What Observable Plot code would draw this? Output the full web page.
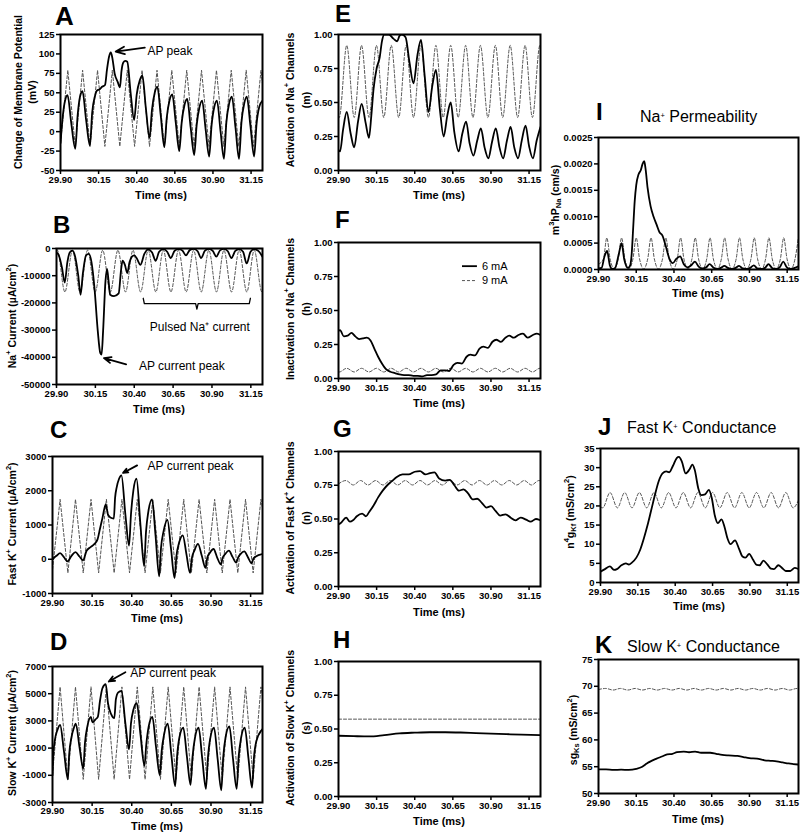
<!DOCTYPE html>
<html><head><meta charset="utf-8">
<script src="https://cdn.jsdelivr.net/npm/d3@7"></script>
<script src="https://cdn.jsdelivr.net/npm/@observablehq/plot@0.6"></script>
<style>
body{margin:0;background:#fff;}
#fig{position:relative;width:800px;height:834px;overflow:hidden;background:#fff;font-family:"Liberation Sans",Arial,sans-serif;}
</style></head>
<body><div id="fig"></div>
<script>
// ---------- DATA (time in ms) ----------
const X_TICKS = [29.90, 30.15, 30.40, 30.65, 30.90, 31.15];
const A_Y_TICKS = [-50, -25, 0, 25, 50, 75, 100, 125];
const B_Y_TICKS = [-50000, -40000, -30000, -20000, -10000, 0];
const C_Y_TICKS = [-1000, 0, 1000, 2000, 3000];
const D_Y_TICKS = [-3000, -1000, 1000, 3000, 5000, 7000];
const GATE_Y_TICKS = [0, 0.25, 0.5, 0.75, 1];
const I_Y_TICKS = [0, 0.0005, 0.001, 0.0015, 0.002, 0.0025];
const J_Y_TICKS = [0, 5, 10, 15, 20, 25, 30, 35];
const K_Y_TICKS = [50, 55, 60, 65, 70, 75];

const A_6mA = [[29.900,-15],[29.915,20],[29.930,40],[29.946,47],[29.970,12],[29.997,-22],[30.012,20],[30.028,45],[30.044,52],[30.068,15],[30.093,-18],[30.108,25],[30.125,45],[30.140,53],[30.152,54],[30.175,58],[30.192,60],[30.205,80],[30.218,96],[30.230,102],[30.240,95],[30.255,75],[30.275,64],[30.290,57],[30.300,78],[30.312,89],[30.325,91],[30.338,90],[30.360,50],[30.383,15],[30.400,48],[30.420,66],[30.437,72],[30.460,30],[30.484,-8],[30.500,28],[30.518,50],[30.535,58],[30.558,20],[30.581,-20],[30.597,18],[30.615,40],[30.633,48],[30.656,12],[30.679,-25],[30.695,12],[30.713,34],[30.731,42],[30.754,5],[30.777,-30],[30.793,8],[30.811,31],[30.829,40],[30.852,3],[30.875,-32],[30.891,8],[30.909,32],[30.926,40],[30.950,0],[30.972,-35],[30.988,12],[31.006,36],[31.024,45],[31.048,5],[31.071,-35],[31.087,12],[31.105,36],[31.122,45],[31.146,7],[31.170,-32],[31.186,10],[31.204,32],[31.225,40]];
const A_9mA = [[29.900,-15],[29.948,79],[29.997,-19],[30.045,79],[30.094,-19],[30.143,79],[30.191,-19],[30.240,79],[30.289,-19],[30.338,79],[30.386,-19],[30.435,79],[30.484,-19],[30.533,79],[30.581,-19],[30.630,79],[30.679,-19],[30.728,79],[30.776,-19],[30.825,79],[30.874,-19],[30.923,79],[30.971,-19],[31.020,79],[31.069,-19],[31.118,79],[31.166,-19],[31.215,79],[31.225,62]];

const B_6mA = [[29.900,-1500],[29.915,-2500],[29.935,-7000],[29.953,-12500],[29.970,-5000],[29.985,-1500],[30.002,-800],[30.020,-3000],[30.040,-10000],[30.055,-17000],[30.070,-9000],[30.090,-2500],[30.108,-2000],[30.125,-5000],[30.145,-15000],[30.165,-30000],[30.182,-38500],[30.190,-39000],[30.200,-30000],[30.215,-12000],[30.225,-7500],[30.235,-12000],[30.245,-17000],[30.270,-17500],[30.300,-16500],[30.315,-8000],[30.325,-4500],[30.340,-6000],[30.355,-9000],[30.370,-5000],[30.385,-3000],[30.400,-2500],[30.415,-3500],[30.440,-6000],[30.465,-2000],[30.490,-300],[30.515,-1500],[30.538,-4500],[30.560,-1200],[30.588,-200],[30.612,-1200],[30.635,-3500],[30.660,-800],[30.686,-200],[30.710,-800],[30.733,-2500],[30.757,-600],[30.783,-150],[30.808,-1000],[30.830,-3500],[30.855,-800],[30.880,-150],[30.905,-900],[30.928,-3000],[30.952,-700],[30.977,-150],[31.002,-1000],[31.025,-3500],[31.050,-900],[31.075,-200],[31.100,-1200],[31.123,-5500],[31.148,-1200],[31.172,-200],[31.198,-900],[31.225,-3000]];
const B_9mA = [[29.900,-700],[29.905,-600],[29.954,-16000],[30.003,-600],[30.051,-16000],[30.100,-600],[30.149,-16000],[30.197,-600],[30.246,-16000],[30.295,-600],[30.344,-16000],[30.392,-600],[30.441,-16000],[30.490,-600],[30.539,-16000],[30.587,-600],[30.636,-16000],[30.685,-600],[30.734,-16000],[30.782,-600],[30.831,-16000],[30.880,-600],[30.929,-16000],[30.977,-600],[31.026,-16000],[31.075,-600],[31.124,-16000],[31.172,-600],[31.221,-16000],[31.225,-15500]];

const C_6mA = [[29.900,0],[29.925,100],[29.948,180],[29.972,60],[29.995,-60],[30.020,100],[30.045,210],[30.070,80],[30.093,-30],[30.115,250],[30.142,360],[30.165,450],[30.184,580],[30.200,900],[30.215,1200],[30.236,1600],[30.250,1300],[30.265,1220],[30.287,1190],[30.295,1800],[30.305,2100],[30.320,2350],[30.335,2450],[30.360,1300],[30.383,400],[30.395,1300],[30.410,2000],[30.430,2350],[30.455,1000],[30.478,-200],[30.490,800],[30.505,1400],[30.528,1750],[30.550,700],[30.573,-500],[30.585,350],[30.600,800],[30.625,1150],[30.648,300],[30.670,-550],[30.682,100],[30.697,450],[30.722,700],[30.745,150],[30.768,-400],[30.780,50],[30.795,250],[30.818,450],[30.842,100],[30.865,-250],[30.877,50],[30.892,180],[30.916,300],[30.939,50],[30.962,-150],[30.974,50],[30.989,150],[31.013,250],[31.036,70],[31.059,-100],[31.071,50],[31.086,150],[31.110,230],[31.133,60],[31.156,-120],[31.168,20],[31.183,80],[31.225,150]];
const C_9mA = [[29.900,-300],[29.948,1750],[29.997,-400],[30.045,1750],[30.094,-400],[30.143,1750],[30.191,-400],[30.240,1750],[30.289,-400],[30.338,1750],[30.386,-400],[30.435,1750],[30.484,-400],[30.533,1750],[30.581,-400],[30.630,1750],[30.679,-400],[30.728,1750],[30.776,-400],[30.825,1750],[30.874,-400],[30.923,1750],[30.971,-400],[31.020,1750],[31.069,-400],[31.118,1750],[31.166,-400],[31.215,1750],[31.225,1500]];

const D_6mA = [[29.900,-1000],[29.905,500],[29.915,1600],[29.930,2300],[29.948,2700],[29.972,800],[29.997,-1300],[30.005,500],[30.020,1800],[30.035,2500],[30.047,2800],[30.070,1100],[30.094,-500],[30.105,1400],[30.120,2600],[30.142,3300],[30.152,2900],[30.170,3100],[30.186,3300],[30.200,4500],[30.215,5400],[30.236,5700],[30.250,4300],[30.270,3500],[30.290,3200],[30.300,4600],[30.315,5100],[30.335,5200],[30.360,2800],[30.383,900],[30.395,2800],[30.410,3800],[30.432,4300],[30.455,2000],[30.480,-300],[30.492,1300],[30.507,2600],[30.530,3300],[30.553,1100],[30.577,-1000],[30.589,800],[30.604,2000],[30.627,2800],[30.650,500],[30.674,-1800],[30.686,400],[30.701,1800],[30.725,2500],[30.748,400],[30.771,-1700],[30.783,300],[30.798,1700],[30.822,2500],[30.845,200],[30.868,-2000],[30.880,200],[30.895,1700],[30.919,2500],[30.942,200],[30.965,-2100],[30.977,300],[30.992,1800],[31.016,2600],[31.039,200],[31.062,-2000],[31.074,300],[31.089,1700],[31.113,2500],[31.136,300],[31.159,-1900],[31.171,300],[31.186,1500],[31.225,2400]];
const D_9mA = [[29.900,-1000],[29.948,5500],[29.997,-1300],[30.045,5500],[30.094,-1300],[30.143,5500],[30.191,-1300],[30.240,5500],[30.289,-1300],[30.338,5500],[30.386,-1300],[30.435,5500],[30.484,-1300],[30.533,5500],[30.581,-1300],[30.630,5500],[30.679,-1300],[30.728,5500],[30.776,-1300],[30.825,5500],[30.874,-1300],[30.923,5500],[30.971,-1300],[31.020,5500],[31.069,-1300],[31.118,5500],[31.166,-1300],[31.215,5500],[31.225,4800]];

const E_6mA = [[29.900,0.15],[29.910,0.14],[29.930,0.30],[29.954,0.43],[29.980,0.27],[30.003,0.17],[30.028,0.36],[30.052,0.49],[30.078,0.35],[30.100,0.24],[30.115,0.40],[30.130,0.60],[30.150,0.75],[30.170,0.83],[30.185,0.95],[30.200,1.00],[30.230,1.00],[30.260,0.97],[30.285,0.95],[30.300,0.99],[30.315,1.00],[30.340,0.98],[30.365,0.80],[30.392,0.64],[30.418,0.85],[30.441,0.96],[30.465,0.70],[30.490,0.43],[30.515,0.62],[30.539,0.74],[30.565,0.45],[30.590,0.25],[30.613,0.40],[30.636,0.50],[30.660,0.28],[30.688,0.14],[30.712,0.27],[30.737,0.36],[30.760,0.20],[30.785,0.11],[30.810,0.22],[30.834,0.31],[30.858,0.17],[30.883,0.09],[30.907,0.21],[30.932,0.31],[30.956,0.17],[30.980,0.09],[31.005,0.22],[31.029,0.32],[31.053,0.17],[31.078,0.09],[31.102,0.22],[31.127,0.33],[31.150,0.18],[31.175,0.09],[31.200,0.22],[31.225,0.32]];
const E_9mA = [[29.900,0.40],[29.905,0.39],[29.954,0.92],[30.003,0.39],[30.051,0.92],[30.100,0.39],[30.149,0.92],[30.197,0.39],[30.246,0.92],[30.295,0.39],[30.344,0.92],[30.392,0.39],[30.441,0.92],[30.490,0.39],[30.539,0.92],[30.587,0.39],[30.636,0.92],[30.685,0.39],[30.734,0.92],[30.782,0.39],[30.831,0.92],[30.880,0.39],[30.929,0.92],[30.977,0.39],[31.026,0.92],[31.075,0.39],[31.124,0.92],[31.172,0.39],[31.221,0.92],[31.225,0.91]];

const F_6mA = [[29.900,0.35],[29.910,0.355],[29.935,0.31],[29.960,0.315],[29.985,0.335],[30.010,0.31],[30.035,0.29],[30.060,0.295],[30.085,0.30],[30.110,0.28],[30.135,0.22],[30.160,0.16],[30.185,0.11],[30.210,0.07],[30.240,0.05],[30.270,0.04],[30.300,0.03],[30.330,0.025],[30.360,0.025],[30.390,0.02],[30.420,0.02],[30.450,0.015],[30.480,0.025],[30.510,0.025],[30.540,0.03],[30.570,0.06],[30.600,0.06],[30.625,0.055],[30.655,0.10],[30.680,0.115],[30.710,0.11],[30.740,0.16],[30.765,0.175],[30.795,0.17],[30.825,0.22],[30.850,0.235],[30.880,0.225],[30.910,0.27],[30.935,0.285],[30.965,0.27],[30.995,0.30],[31.020,0.315],[31.050,0.30],[31.080,0.32],[31.110,0.33],[31.140,0.30],[31.175,0.32],[31.200,0.33],[31.225,0.32]];
const F_9mA = [[29.900,0.05],[29.905,0.048],[29.954,0.075],[30.003,0.048],[30.051,0.075],[30.100,0.048],[30.149,0.075],[30.197,0.048],[30.246,0.075],[30.295,0.048],[30.344,0.075],[30.392,0.048],[30.441,0.075],[30.490,0.048],[30.539,0.075],[30.587,0.048],[30.636,0.075],[30.685,0.048],[30.734,0.075],[30.782,0.048],[30.831,0.075],[30.880,0.048],[30.929,0.075],[30.977,0.048],[31.026,0.075],[31.075,0.048],[31.124,0.075],[31.172,0.048],[31.221,0.075],[31.225,0.074]];

const G_6mA = [[29.900,0.46],[29.915,0.47],[29.950,0.51],[29.975,0.48],[29.995,0.49],[30.020,0.52],[30.055,0.54],[30.080,0.52],[30.100,0.55],[30.130,0.60],[30.160,0.66],[30.190,0.71],[30.220,0.75],[30.250,0.78],[30.280,0.81],[30.320,0.83],[30.360,0.83],[30.400,0.85],[30.435,0.855],[30.470,0.83],[30.500,0.84],[30.530,0.845],[30.560,0.80],[30.600,0.785],[30.630,0.79],[30.660,0.75],[30.690,0.71],[30.720,0.72],[30.750,0.69],[30.780,0.645],[30.810,0.65],[30.840,0.62],[30.870,0.585],[30.900,0.595],[30.930,0.56],[30.960,0.525],[30.995,0.535],[31.030,0.51],[31.060,0.49],[31.095,0.51],[31.130,0.495],[31.160,0.48],[31.195,0.50],[31.225,0.49]];
const G_9mA = [[29.900,0.76],[29.948,0.785],[29.997,0.752],[30.045,0.785],[30.094,0.752],[30.143,0.785],[30.191,0.752],[30.240,0.785],[30.289,0.752],[30.338,0.785],[30.386,0.752],[30.435,0.785],[30.484,0.752],[30.533,0.785],[30.581,0.752],[30.630,0.785],[30.679,0.752],[30.728,0.785],[30.776,0.752],[30.825,0.785],[30.874,0.752],[30.923,0.785],[30.971,0.752],[31.020,0.785],[31.069,0.752],[31.118,0.785],[31.166,0.752],[31.215,0.785],[31.225,0.782]];

const H_6mA = [[29.900,0.450],[30.000,0.447],[30.100,0.445],[30.200,0.455],[30.300,0.468],[30.400,0.473],[30.500,0.476],[30.600,0.476],[30.700,0.474],[30.800,0.470],[30.900,0.466],[31.000,0.462],[31.100,0.458],[31.225,0.455]];
const H_9mA = [[29.900,0.573],[30.300,0.573],[30.700,0.573],[31.225,0.573]];

const I_6mA = [[29.900,0.00002],[29.920,0.00003],[29.940,0.00025],[29.957,0.00035],[29.975,0.00008],[29.990,0.00001],[30.010,0.00003],[30.035,0.00030],[30.053,0.00050],[30.070,0.00020],[30.095,0.00003],[30.110,0.00008],[30.120,0.00030],[30.130,0.00080],[30.140,0.00130],[30.150,0.00160],[30.165,0.00180],[30.180,0.00188],[30.192,0.00200],[30.203,0.00205],[30.212,0.00190],[30.225,0.00155],[30.245,0.00120],[30.265,0.00100],[30.285,0.00085],[30.305,0.00070],[30.322,0.00065],[30.345,0.00045],[30.370,0.00020],[30.392,0.00012],[30.415,0.00020],[30.441,0.00025],[30.465,0.00010],[30.490,0.00004],[30.515,0.00008],[30.539,0.00015],[30.562,0.00006],[30.587,0.00002],[30.613,0.00004],[30.636,0.00010],[30.660,0.00004],[30.685,0.00001],[30.710,0.00003],[30.734,0.00007],[30.757,0.00003],[30.782,0.00001],[30.808,0.00003],[30.831,0.00007],[30.855,0.00002],[30.880,0.00001],[30.905,0.00003],[30.929,0.00008],[30.952,0.00002],[30.977,0.00001],[31.003,0.00003],[31.026,0.00010],[31.050,0.00003],[31.075,0.00001],[31.100,0.00004],[31.124,0.00015],[31.148,0.00004],[31.172,0.00001],[31.200,0.00003],[31.225,0.00006]];
const I_9mA = [[29.900,0.00010],[29.933,0.00020],[29.955,0.00060],[29.977,0.00020],[30.004,0.00001],[30.031,0.00020],[30.053,0.00060],[30.075,0.00020],[30.102,0.00001],[30.128,0.00020],[30.150,0.00060],[30.172,0.00020],[30.199,0.00001],[30.226,0.00020],[30.248,0.00060],[30.270,0.00020],[30.297,0.00001],[30.324,0.00020],[30.346,0.00060],[30.368,0.00020],[30.395,0.00001],[30.422,0.00020],[30.444,0.00060],[30.466,0.00020],[30.493,0.00001],[30.519,0.00020],[30.541,0.00060],[30.563,0.00020],[30.590,0.00001],[30.617,0.00020],[30.639,0.00060],[30.661,0.00020],[30.688,0.00001],[30.714,0.00020],[30.736,0.00060],[30.758,0.00020],[30.785,0.00001],[30.812,0.00020],[30.834,0.00060],[30.856,0.00020],[30.883,0.00001],[30.910,0.00020],[30.932,0.00060],[30.954,0.00020],[30.981,0.00001],[31.007,0.00020],[31.029,0.00060],[31.051,0.00020],[31.078,0.00001],[31.105,0.00020],[31.127,0.00060],[31.149,0.00020],[31.176,0.00001],[31.202,0.00020],[31.224,0.00060]];

const J_6mA = [[29.900,2.8],[29.930,3.5],[29.963,4.2],[29.990,3.3],[30.010,3.5],[30.040,4.5],[30.070,5.0],[30.090,4.7],[30.110,5.2],[30.140,6.5],[30.165,8.5],[30.190,11.5],[30.215,15],[30.240,19],[30.265,23],[30.290,26.5],[30.315,28.5],[30.340,29.0],[30.360,28.8],[30.385,30.5],[30.410,32.5],[30.425,32.8],[30.445,31.5],[30.470,28.5],[30.495,29.5],[30.515,30.8],[30.530,29.5],[30.555,24.5],[30.575,22.8],[30.600,23.0],[30.625,24.2],[30.645,22.0],[30.665,17.5],[30.685,15.5],[30.710,16.5],[30.730,14.5],[30.750,11.5],[30.770,10.0],[30.800,11.0],[30.825,9.0],[30.850,6.8],[30.870,6.5],[30.895,7.5],[30.920,6.0],[30.945,4.6],[30.965,4.5],[30.990,5.7],[31.015,4.8],[31.040,3.6],[31.060,3.5],[31.090,4.5],[31.115,3.8],[31.140,3.0],[31.170,3.0],[31.200,3.8],[31.225,3.5]];
const J_9mA = [[29.900,19.8],[29.915,19.5],[29.964,23.5],[30.013,19.5],[30.062,23.5],[30.111,19.5],[30.160,23.5],[30.209,19.5],[30.258,23.5],[30.307,19.5],[30.356,23.5],[30.405,19.5],[30.454,23.5],[30.503,19.5],[30.552,23.5],[30.601,19.5],[30.650,23.5],[30.699,19.5],[30.748,23.5],[30.797,19.5],[30.846,23.5],[30.895,19.5],[30.944,23.5],[30.993,19.5],[31.042,23.5],[31.091,19.5],[31.140,23.5],[31.189,19.5],[31.225,21.5]];

const K_6mA = [[29.900,54.5],[29.950,54.5],[30.000,54.4],[30.050,54.45],[30.100,54.4],[30.150,54.6],[30.190,55.0],[30.220,55.6],[30.245,56.0],[30.285,56.5],[30.320,56.9],[30.355,57.3],[30.390,57.4],[30.420,57.7],[30.465,57.8],[30.500,57.7],[30.540,57.8],[30.580,57.6],[30.640,57.6],[30.680,57.4],[30.720,57.2],[30.760,57.1],[30.820,57.0],[30.860,56.8],[30.900,56.6],[30.950,56.5],[31.000,56.2],[31.040,56.1],[31.080,56.0],[31.120,55.8],[31.160,55.6],[31.190,55.5],[31.225,55.4]];
const K_9mA = [[29.900,69.4],[29.948,69.6],[29.997,69.3],[30.045,69.6],[30.094,69.3],[30.143,69.6],[30.191,69.3],[30.240,69.6],[30.289,69.3],[30.338,69.6],[30.386,69.3],[30.435,69.6],[30.484,69.3],[30.533,69.6],[30.581,69.3],[30.630,69.6],[30.679,69.3],[30.728,69.6],[30.776,69.3],[30.825,69.6],[30.874,69.3],[30.923,69.6],[30.971,69.3],[31.020,69.6],[31.069,69.3],[31.118,69.6],[31.166,69.3],[31.215,69.6],[31.225,69.5]];

// annotations (data coordinates)
const A_NOTE = [{t:30.47, v:104, label:"AP peak", t0:30.453, v0:108, t1:30.262, v1:103}];
const B_NOTE = [{t:30.43, v:-43400, label:"AP current peak", t0:30.348, v0:-42600, t1:30.205, v1:-40300}];
const B_PULSE_LABEL = [{t:30.822, v:-28900, label:"Pulsed Na\u207A current"}];
const B_BRACKET = [[30.458,-18300],[30.465,-20300],[30.795,-20300],[30.803,-22300],[30.811,-20300],[31.140,-20300],[31.147,-18300]];
const C_NOTE = [{t:30.50, v:2710, label:"AP current peak", t0:30.434, v0:2740, t1:30.345, v1:2520}];
const D_NOTE = [{t:30.39, v:6480, label:"AP current peak", t0:30.36, v0:6580, t1:30.255, v1:5900}];
const LEGEND = [{label:"6 mA", t0:30.71, t1:30.808, v:0.826, dash:false},{label:"9 mA", t0:30.71, t1:30.808, v:0.72, dash:true}];

// ---------- LAYOUT ----------
const FRAMES = {A:[60,262,34,170], B:[56,262,248,384], C:[52,262,456,593], D:[52,262,666,802],
  E:[338,540,34,170], F:[338,540,242,378], G:[338,540,451,586], H:[338,540,661,796],
  I:[598,798,137,269], J:[600,798,448,582], K:[598,798,659,793]};
const TIME_LABEL_Y = {A:199, B:413, C:622, D:830, E:199, F:407, G:616, H:825, I:297, J:610, K:823};
const X_DOMAIN = [29.90, 31.225];
const FONT = "'Liberation Sans', Arial, Helvetica, sans-serif";
const fig = document.getElementById("fig");

function panel(key, yDomain, yTicks, yFmt, s6, s9, curve6, curve9, extra) {
  const [l, r, t, b] = FRAMES[key];
  const ml = 52, mr = 6, mt = 6, mb = 30;
  const chart = Plot.plot({
    width: r - l + ml + mr, height: b - t + mt + mb,
    marginLeft: ml, marginRight: mr, marginTop: mt, marginBottom: mb,
    style: {fontFamily: FONT, fontSize: "9.5px", fontWeight: "bold", color: "black", background: "transparent", overflow: "visible"},
    x: {domain: X_DOMAIN},
    y: {domain: yDomain},
    marks: [
      Plot.line(s9, {x: d => d[0], y: d => d[1], curve: curve9, stroke: "#555", strokeWidth: 1, strokeDasharray: "3,2", clip: true}),
      Plot.line(s6, {x: d => d[0], y: d => d[1], curve: curve6, stroke: "black", strokeWidth: 1.8, clip: true}),
      ...(extra || []),
      Plot.axisX({ticks: X_TICKS, tickFormat: d => d.toFixed(2), tickSize: 4, tickPadding: key === "D" ? 1 : 2, strokeWidth: 1.5, label: null}),
      Plot.axisY({ticks: yTicks, tickFormat: yFmt, tickSize: 4, tickPadding: 2, strokeWidth: 1.5, label: null}),
      Plot.frame({stroke: "black", strokeWidth: 2})
    ]
  });
  chart.style.position = "absolute";
  chart.style.left = (l - ml) + "px";
  chart.style.top = (t - mt) + "px";
  fig.appendChild(chart);
}

function note(arr) {
  return [
    Plot.arrow(arr, {x1: "t0", y1: "v0", x2: "t1", y2: "v1", stroke: "black", strokeWidth: 1.8, headLength: 8, headAngle: 45}),
    Plot.text(arr, {x: "t", y: "v", text: "label", textAnchor: "start", fontSize: 12, fontWeight: "normal", fontFamily: FONT})
  ];
}

const intFmt = d => String(d);
const f2 = d => d.toFixed(2);
const f4 = d => d.toFixed(4);

panel("A", [-50, 125], A_Y_TICKS, intFmt, A_6mA, A_9mA, "monotone-x", "linear", note(A_NOTE));
panel("B", [-50000, 0], B_Y_TICKS, intFmt, B_6mA, B_9mA, "monotone-x", "monotone-x", [
  ...note(B_NOTE),
  Plot.text(B_PULSE_LABEL, {x: "t", y: "v", text: "label", fontSize: 12, fontWeight: "normal", fontFamily: FONT}),
  Plot.line(B_BRACKET, {x: d => d[0], y: d => d[1], stroke: "black", strokeWidth: 1.3})
]);
panel("C", [-1000, 3000], C_Y_TICKS, intFmt, C_6mA, C_9mA, "monotone-x", "linear", note(C_NOTE));
panel("D", [-3000, 7000], D_Y_TICKS, intFmt, D_6mA, D_9mA, "monotone-x", "linear", note(D_NOTE));
panel("E", [0, 1], GATE_Y_TICKS, f2, E_6mA, E_9mA, "monotone-x", "monotone-x", []);
panel("F", [0, 1], GATE_Y_TICKS, f2, F_6mA, F_9mA, "monotone-x", "monotone-x", [
  Plot.link(LEGEND.filter(d => !d.dash), {x1: "t0", x2: "t1", y1: "v", y2: "v", stroke: "black", strokeWidth: 1.8}),
  Plot.link(LEGEND.filter(d => d.dash), {x1: "t0", x2: "t1", y1: "v", y2: "v", stroke: "#555", strokeWidth: 1, strokeDasharray: "3,2"}),
  Plot.text(LEGEND, {x: "t1", y: "v", text: "label", textAnchor: "start", dx: 5, fontSize: 11, fontWeight: "normal", fontFamily: FONT})
]);
panel("G", [0, 1], GATE_Y_TICKS, f2, G_6mA, G_9mA, "monotone-x", "monotone-x", []);
panel("H", [0, 1], GATE_Y_TICKS, f2, H_6mA, H_9mA, "monotone-x", "linear", []);
panel("I", [0, 0.0025], I_Y_TICKS, f4, I_6mA, I_9mA, "monotone-x", "monotone-x", []);
panel("J", [0, 35], J_Y_TICKS, intFmt, J_6mA, J_9mA, "monotone-x", "monotone-x", []);
panel("K", [50, 75], K_Y_TICKS, intFmt, K_6mA, K_9mA, "monotone-x", "monotone-x", []);

// ---------- TEXT OVERLAY ----------
const sup = s => `<tspan dy="-4" font-size="7.5">${s}</tspan><tspan dy="4">`;
const sub = s => `<tspan dy="3" font-size="7.5">${s}</tspan><tspan dy="-3">`;
function yTitle(x, y, inner) {
  return `<text transform="translate(${x},${y}) rotate(-90)" text-anchor="middle" dominant-baseline="central" font-weight="bold" font-size="10.5">${inner}</tspan></text>`;
}
let svg = `<svg width="800" height="834" style="position:absolute;left:0;top:0;font-family:${FONT.replace(/'/g, '&quot;')}" xmlns="http://www.w3.org/2000/svg">`;
const letters = [["A",55,25,26],["B",53,233,24],["C",50,438,24],["D",50,650,24],["E",335,22,24],["F",335,228,24],["G",333,437,24],["H",333,648,24],["I",596,120,24],["J",598,435,24],["K",595,653,24]];
for (const [s,x,y,fs] of letters) svg += `<text x="${x}" y="${y}" font-weight="bold" font-size="${fs}">${s}</text>`;
svg += `<text x="640" y="122" font-size="16">Na${sup("+")} Permeability</tspan></text>`;
svg += `<text x="627" y="433" font-size="16">Fast K${sup("+")} Conductance</tspan></text>`;
svg += `<text x="627" y="652" font-size="16">Slow K${sup("+")} Conductance</tspan></text>`;
svg += yTitle(18, 92, `<tspan>Change of Membrane  Potential`);
svg += yTitle(32, 92, `<tspan>(mV)`);
svg += yTitle(12, 316, `<tspan>Na${sup("+")} Current (µA/cm${sup("2")})`);
svg += yTitle(12, 524, `<tspan>Fast K${sup("+")} Current (µA/cm${sup("2")})`);
svg += yTitle(12, 733, `<tspan>Slow K${sup("+")} Current (µA/cm${sup("2")})`);
svg += yTitle(290, 100, `<tspan>Activation of Na${sup("+")} Channels`);
svg += yTitle(306, 100, `<tspan>(m)`);
svg += yTitle(290, 309, `<tspan>Inactivation of Na${sup("+")} Channels`);
svg += yTitle(306, 309, `<tspan>(h)`);
svg += yTitle(290, 518, `<tspan>Activation of Fast K${sup("+")} Channels`);
svg += yTitle(306, 518, `<tspan>(n)`);
svg += yTitle(290, 728, `<tspan>Activation of Slow K${sup("+")} Channels`);
svg += yTitle(306, 728, `<tspan>(s)`);
svg += yTitle(555, 200, `<tspan>m${sup("3")}hP${sub("Na")} (cm/s)`);
svg += yTitle(570, 512, `<tspan>n${sup("4")}g${sub("Kf")} (mS/cm${sup("2")})`);
svg += yTitle(573, 730, `<tspan>sg${sub("Ks")} (mS/cm${sup("2")})`);
for (const k of Object.keys(FRAMES)) {
  const [l, r] = FRAMES[k];
  svg += `<text x="${(l + r) / 2}" y="${TIME_LABEL_Y[k]}" text-anchor="middle" font-weight="bold" font-size="11">Time (ms)</text>`;
}
svg += `</svg>`;
fig.insertAdjacentHTML("beforeend", svg);
</script>
</body></html>
